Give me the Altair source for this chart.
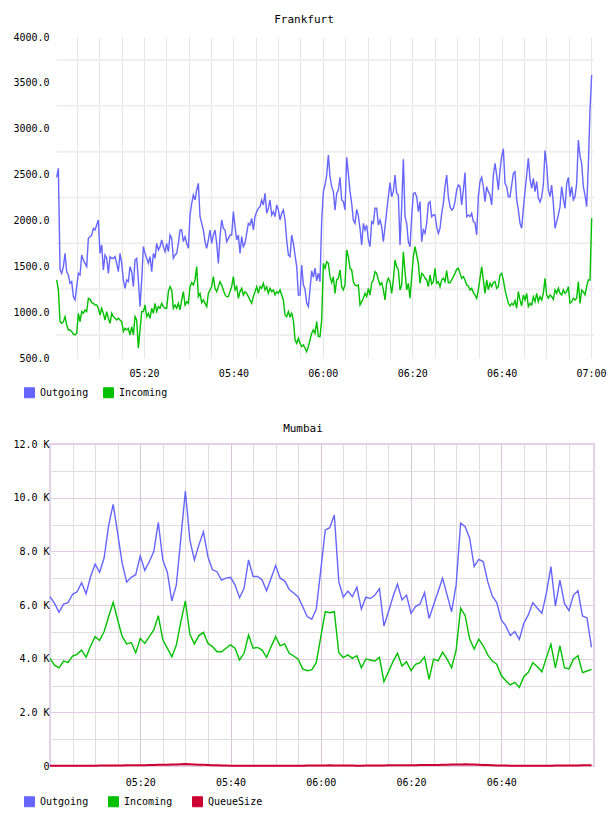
import altair as alt
import numpy as np
import pandas as pd

FONT = "DejaVu Sans Mono"
BLUE = "#6666ff"
GREEN = "#00c000"
RED = "#cc0033"
DAY = "2024-01-01"

# ---------------- Frankfurt: samples every 22.37 s starting 05:00:28 ----------------
fra_start = "05:00:28"
fra_step_s = 22.37

fra_out = [
    2470, 2568, 1460, 1423, 1496, 1641, 1441, 1405, 1314, 1333,
    1169, 1133, 1278, 1423, 1405, 1623, 1569, 1532, 1496, 1805,
    1823, 1840, 1914, 1896, 1950, 2005, 1641, 1732, 1460, 1623,
    1587, 1423, 1605, 1587, 1587, 1605, 1532, 1441, 1641, 1532,
    1351, 1260, 1351, 1333, 1496, 1441, 1278, 1569, 1587, 1351,
    1060, 1350, 1714, 1641, 1587, 1532, 1605, 1441, 1641, 1587,
    1750, 1678, 1714, 1787, 1714, 1660, 1750, 1660, 1841, 1805,
    1587, 1623, 1641, 1750, 1896, 1896, 1769, 1823, 1750, 1696,
    2059, 2186, 2277, 2223, 2332, 2404, 2041, 1968, 1896, 1769,
    1696, 1787, 1896, 1750, 1841, 1896, 1750, 1532, 1823, 2005,
    1914, 1896, 1769, 1805, 1841, 1841, 2096, 1932, 1787, 1841,
    1641, 1823, 1714, 1750, 1860, 1968, 1950, 2023, 1896, 2041,
    2096, 2132, 2150, 2223, 2168, 2295, 2078, 2132, 2223, 2059,
    2096, 2041, 2168, 2114, 2005, 2078, 2114, 2005, 1787, 1623,
    1605, 1841, 1750, 1623, 1496, 1187, 1187, 1514, 1300, 1250,
    1100, 1061, 1250, 1450, 1380, 1480, 1340, 1424,
    1332, 2000, 2314, 2386, 2495, 2713, 2477, 2368, 2314, 2113,
    2295, 2332, 2470, 2223, 2205, 2114, 2688, 2513, 2314, 2186,
    2005, 1968, 2121, 2050, 1914, 1732, 1968, 1896, 1950, 1787,
    1714, 1987, 1968, 2132, 2132, 1950, 2005, 1932, 1768, 1932,
    2096, 2259, 2412, 2259, 2314, 2495, 2295, 2277, 1732, 2150,
    2666, 2041, 1968, 1768, 1714, 2041, 2295, 2303, 2259, 2096,
    2205, 1768, 1896, 1859, 1968, 2186, 2205, 2041, 2059, 2059,
    1932, 1859, 1914, 2077, 2186, 2368, 2495, 2259, 2150, 2114,
    2132, 2205, 2332, 2386, 2368, 2168, 2332, 2521, 2041, 2059,
    2041, 2077, 1987, 1976, 1841, 2259, 2423, 2470, 2368, 2205,
    2368, 2314, 2277, 2168, 2495, 2622, 2495, 2332, 2550, 2695,
    2780, 2404, 2368, 2259, 2259, 2386, 2513, 2532, 2223, 2114,
    1968, 1914, 2132, 2314, 2495, 2677, 2450, 2350, 2459, 2314,
    2423, 2241, 2200, 2259, 2386, 2761, 2604, 2332, 2260, 2386,
    2186, 1914, 1987, 2059, 2150, 2368, 2241, 2132, 2400, 2470,
    2259, 2368, 2223, 2259, 2404, 2877, 2700, 2622, 2368, 2277,
    2150, 2600, 3204, 3585,
]

fra_in = [
    1351, 1242, 896, 878, 896, 951, 860, 806, 806, 788,
    760, 751, 769, 987, 896, 1006, 987, 1024, 1006, 1151,
    1140, 1104, 1096, 1078, 1078, 1042, 969, 1042, 987, 914,
    1006, 933, 878, 987, 951, 933, 914, 933, 914, 896,
    788, 824, 806, 824, 751, 842, 751, 951, 914, 606,
    806, 1006, 1006, 1078, 951, 987, 933, 1042, 987, 1096,
    1006, 1060, 1042, 1096, 1060, 1042, 1042, 1224, 1278, 1242,
    1042, 1078, 1042, 1096, 1024, 1133, 1224, 1078, 1115, 1096,
    1278, 1322, 1296, 1351, 1496, 1169, 1205, 1104, 1133, 1096,
    1060, 1205, 1242, 1278, 1387, 1260, 1224, 1278, 1333, 1296,
    1242, 1187, 1169, 1169, 1224, 1278, 1387, 1242, 1278, 1151,
    1224, 1260, 1187, 1224, 1205, 1169, 1133, 1096, 1169, 1224,
    1278, 1205, 1278, 1260, 1314, 1242, 1278, 1205, 1260, 1224,
    1242, 1187, 1224, 1205, 1242, 1187, 1133, 969, 951, 1006,
    951, 987, 914, 697, 660, 715, 660, 624, 642, 606,
    569, 624, 697, 769, 806, 769, 896, 733,
    733, 915, 1532, 1478, 1550, 1532, 1387, 1321, 1387, 1205,
    1351, 1369, 1460, 1278, 1242, 1300, 1678, 1605, 1478, 1460,
    1332, 1296, 1285, 1296, 1078, 1114, 1151, 1205, 1169, 1260,
    1187, 1321, 1351, 1441, 1423, 1351, 1296, 1321, 1242, 1133,
    1321, 1369, 1332, 1205, 1351, 1569, 1496, 1460, 1242, 1296,
    1659, 1441, 1242, 1314, 1151, 1387, 1605, 1714, 1623, 1532,
    1314, 1423, 1405, 1369, 1351, 1278, 1405, 1307, 1332, 1478,
    1314, 1332, 1278, 1351, 1369, 1332, 1452, 1321, 1321, 1351,
    1387, 1423, 1467, 1478, 1423, 1369, 1387, 1351, 1296, 1285,
    1242, 1260, 1213, 1187, 1151, 1242, 1369, 1496, 1351, 1205,
    1351, 1242, 1314, 1278, 1321, 1332, 1260, 1278, 1405, 1423,
    1351, 1242, 1169, 1096, 1067, 1096, 1078, 1125, 1042, 1223,
    1133, 1067, 1187, 1133, 1205, 1060, 1096, 1078, 1169, 1114,
    1205, 1114, 1169, 1133, 1205, 1369, 1187, 1151, 1187, 1169,
    1140, 1242, 1205, 1260, 1205, 1187, 1242, 1205, 1223, 1278,
    1096, 1114, 1151, 1133, 1151, 1332, 1096, 1242, 1223, 1187,
    1278, 1351, 1351, 2023,
]

fra_y_labels = [500, 1000, 1500, 2000, 2500, 3000, 3500, 4000]
fra_y_grid = [750, 1250, 1750, 2250, 2750, 3250, 3750]

# ---------------- Mumbai: one sample per minute from 05:00 (values in K) ----------------
mum_start = "05:00:00"
mum_step_s = 60

mum_out = [
    6.31, 6.06, 5.73, 6.03, 6.09, 6.40, 6.49, 6.83, 6.42, 7.06,
    7.52, 7.22, 7.76, 8.98, 9.75, 8.67, 7.55, 6.85, 7.03, 7.13,
    7.83, 7.29, 7.61, 7.99, 9.08, 7.68, 7.22, 6.15, 6.75, 8.49,
    10.25, 8.42, 7.68, 8.24, 8.73, 7.80, 7.31, 7.24, 6.93, 7.00,
    7.03, 6.75, 6.27, 6.62, 7.68, 7.06, 7.06, 6.93, 6.53, 7.00,
    7.47, 7.00, 6.90, 6.58, 6.45, 6.30, 5.94, 5.57, 5.47, 5.84,
    7.30, 8.80, 8.88, 9.35, 6.87, 6.29, 6.52, 6.31, 6.66, 5.85,
    6.29, 6.24, 6.37, 6.61, 5.22, 5.75, 6.31, 6.78, 6.19, 6.37,
    5.69, 5.94, 6.04, 6.46, 5.50, 6.00, 6.50, 7.00, 6.37, 5.75,
    6.75, 9.05, 8.92, 8.49, 7.43, 7.70, 7.62, 6.87, 6.34, 6.09,
    5.44, 5.22, 4.86, 5.01, 4.72, 5.32, 5.63, 6.09, 5.88, 5.69,
    6.44, 7.43, 5.96, 6.93, 6.06, 5.79, 6.37, 6.53, 5.59, 5.52,
    4.42,
]

mum_in = [
    4.01, 3.76, 3.66, 3.91, 3.86, 4.10, 4.16, 4.32, 4.05, 4.47,
    4.82, 4.68, 5.01, 5.57, 6.10, 5.44, 4.82, 4.55, 4.60, 4.22,
    4.76, 4.57, 4.82, 5.07, 5.60, 4.70, 4.39, 4.07, 4.51, 5.38,
    6.15, 4.91, 4.55, 4.86, 4.98, 4.57, 4.45, 4.26, 4.26, 4.39,
    4.51, 4.39, 3.95, 4.20, 4.88, 4.39, 4.42, 4.32, 4.05, 4.45,
    4.82, 4.48, 4.55, 4.20, 4.10, 3.98, 3.62, 3.55, 3.58, 3.85,
    4.80, 5.75, 5.71, 5.75, 4.22, 4.04, 4.14, 4.01, 4.11, 3.66,
    3.99, 3.95, 3.91, 4.05, 3.14, 3.51, 3.89, 4.20, 3.73, 3.89,
    3.55, 3.79, 3.85, 4.07, 3.23, 3.98, 3.92, 4.24, 3.98, 3.66,
    4.32, 5.88, 5.60, 4.73, 4.36, 4.73, 4.48, 4.14, 3.91, 3.79,
    3.37, 3.18, 3.02, 3.12, 2.93, 3.33, 3.49, 3.85, 3.70, 3.51,
    4.04, 4.54, 3.66, 4.48, 3.66, 3.62, 3.98, 4.11, 3.48, 3.54,
    3.60,
]

mum_queue = [
    0.005, 0.005, 0.005, 0.006, 0.006, 0.008, 0.008, 0.010, 0.010, 0.012,
    0.012, 0.014, 0.015, 0.016, 0.018, 0.020, 0.022, 0.024, 0.026, 0.028,
    0.030, 0.032, 0.034, 0.038, 0.042, 0.046, 0.050, 0.055, 0.060, 0.065,
    0.070, 0.062, 0.055, 0.048, 0.042, 0.036, 0.030, 0.024, 0.018, 0.014,
    0.010, 0.008, 0.006, 0.005, 0.005, 0.005, 0.005, 0.005, 0.005, 0.006,
    0.006, 0.006, 0.008, 0.008, 0.010, 0.010, 0.012, 0.014, 0.016, 0.018,
    0.020, 0.022, 0.024, 0.022, 0.020, 0.018, 0.016, 0.014, 0.012, 0.012,
    0.014, 0.016, 0.018, 0.020, 0.022, 0.024, 0.026, 0.028, 0.030, 0.030,
    0.032, 0.032, 0.034, 0.034, 0.036, 0.038, 0.040, 0.044, 0.048, 0.052,
    0.056, 0.060, 0.062, 0.058, 0.052, 0.046, 0.040, 0.034, 0.028, 0.022,
    0.018, 0.014, 0.012, 0.010, 0.008, 0.008, 0.008, 0.008, 0.008, 0.010,
    0.010, 0.012, 0.014, 0.016, 0.018, 0.020, 0.022, 0.022, 0.024, 0.024,
    0.026,
]

mum_y_ticks = [0, 1000, 2000, 3000, 4000, 5000, 6000, 7000, 8000, 9000, 10000, 11000, 12000]


def stamps(start, step_s, n):
    t0 = pd.Timestamp(f"{DAY} {start}")
    ts = t0 + pd.to_timedelta(np.arange(n) * step_s, unit="s")
    return [t.strftime("%Y-%m-%dT%H:%M:%S.%f")[:-3] for t in ts]


def dt(h, m, s=0):
    return alt.DateTime(year=2024, month=1, date=1, hours=h, minutes=m, seconds=s)


def five_minute_ticks(first, last):
    return [dt(5 + m // 60, m % 60) for m in range(first, last + 1, 5)]


LABEL_EXPR_TIME = "minutes(datum.value) % 20 == 0 ? timeFormat(datum.value, '%H:%M') : ''"


def legend(x, y, pad):
    return alt.Legend(
        orient="none", legendX=x, legendY=y, direction="horizontal", title=None,
        symbolType="square", symbolSize=100, symbolStrokeColor="#999999",
        symbolStrokeWidth=1, symbolOpacity=1, labelFont=FONT, labelFontSize=10,
        labelColor="#000000", labelOffset=5, columnPadding=pad, padding=0,
    )


# ---------------- Frankfurt panel ----------------
fra = pd.DataFrame({
    "time": stamps(fra_start, fra_step_s, len(fra_out)),
    "Outgoing": fra_out,
    "Incoming": fra_in,
})
fra_long = fra.melt("time", var_name="series", value_name="value")
fra_end = "2024-01-01T07:00:40"

fra_xscale = alt.Scale(domain=[dt(4, 58, 58), dt(7, 0, 40)])
fra_yscale = alt.Scale(domain=[500, 4000], nice=False, zero=False)
fra_color = alt.Scale(domain=["Outgoing", "Incoming"], range=[BLUE, GREEN])

fra_xaxis = alt.Axis(
    values=five_minute_ticks(5, 120), grid=True, gridColor="#e6e6e6", gridWidth=1,
    domain=False, ticks=False, labelExpr=LABEL_EXPR_TIME, labelFont=FONT,
    labelFontSize=10, labelColor="#000000", labelPadding=10, labelFlush=False,
    labelOverlap=False, title=None,
)
fra_yaxis = alt.Axis(
    values=fra_y_labels, format=".1f", grid=False, domain=False, ticks=False,
    labelFont=FONT, labelFontSize=10, labelColor="#000000", labelPadding=1,
    labelFlush=False, title=None,
)

fra_grid_df = pd.DataFrame({"y": fra_y_grid, "x0": fra["time"].iloc[0], "x1": fra_end})
fra_grid = alt.Chart(fra_grid_df).mark_rule(color="#efefef", strokeWidth=2).encode(
    x=alt.X("x0:T", scale=fra_xscale, axis=fra_xaxis),
    x2="x1:T",
    y=alt.Y("y:Q", scale=fra_yscale, axis=fra_yaxis),
)

fra_base = alt.Chart(fra_long).encode(
    x=alt.X("time:T", scale=fra_xscale, axis=fra_xaxis),
    y=alt.Y("value:Q", scale=fra_yscale, axis=fra_yaxis),
    color=alt.Color("series:N", scale=fra_color, legend=legend(-26, 350, 12)),
)
fra_lines = [
    fra_base.transform_filter(f"datum.series == '{s}'").mark_line(strokeWidth=1.4)
    for s in ["Outgoing", "Incoming"]
]
fra_key = fra_base.mark_square(filled=True, size=0, opacity=1, stroke="#999999", strokeWidth=1)

fra_chart = alt.layer(fra_grid, *fra_lines, fra_key).properties(
    width=544, height=321,
    title=alt.TitleParams("Frankfurt", font=FONT, fontSize=11, fontWeight="normal",
                          color="#000000", anchor="middle", dx=-18, offset=7),
)

# ---------------- Mumbai panel ----------------
mum = pd.DataFrame({
    "time": stamps(mum_start, mum_step_s, len(mum_out)),
    "Outgoing": np.array(mum_out) * 1000,
    "Incoming": np.array(mum_in) * 1000,
    "QueueSize": np.array(mum_queue) * 1000,
})
mum_long = mum.melt("time", var_name="series", value_name="value")

mum_xscale = alt.Scale(domain=[dt(5, 0, 0), dt(7, 0, 33)])
mum_yscale = alt.Scale(domain=[0, 12000], nice=False)
mum_color = alt.Scale(domain=["Outgoing", "Incoming", "QueueSize"], range=[BLUE, GREEN, RED])

PINK = "#dcc3dc"
GREY = "#dedede"
mum_xaxis = alt.Axis(
    values=five_minute_ticks(5, 115), grid=True,
    gridColor={"condition": {"test": "minutes(datum.value) % 20 == 0", "value": PINK}, "value": GREY},
    gridWidth=1, domain=False, ticks=False, labelExpr=LABEL_EXPR_TIME, labelFont=FONT,
    labelFontSize=10, labelColor="#000000", labelPadding=11, labelFlush=False,
    labelOverlap=False, title=None,
)
mum_yaxis = alt.Axis(
    values=mum_y_ticks, grid=True,
    gridColor={"condition": {"test": "datum.value % 2000 == 0", "value": "#e4cce4"}, "value": GREY},
    gridWidth=1, domain=False, ticks=False,
    labelExpr="datum.value == 0 ? '0' : (datum.value % 2000 == 0 ? format(datum.value / 1000, '.1f') + ' K' : '')",
    labelFont=FONT, labelFontSize=10, labelColor="#000000", labelPadding=1,
    labelFlush=False, labelOverlap=False, title=None,
)

mum_base = alt.Chart(mum_long).encode(
    x=alt.X("time:T", scale=mum_xscale, axis=mum_xaxis),
    y=alt.Y("value:Q", scale=mum_yscale, axis=mum_yaxis),
    color=alt.Color("series:N", scale=mum_color, legend=legend(-26, 352, 17)),
)
mum_lines = [
    mum_base.transform_filter(f"datum.series == '{s}'").mark_line(strokeWidth=w)
    for s, w in [("Outgoing", 1.4), ("Incoming", 1.4), ("QueueSize", 2)]
]
mum_key = mum_base.mark_square(filled=True, size=0, opacity=1, stroke="#999999", strokeWidth=1)

mum_chart = alt.layer(*mum_lines, mum_key).properties(
    width=544, height=322,
    view=alt.ViewBackground(stroke="#e6d2e6", strokeWidth=2),
    title=alt.TitleParams("Mumbai", font=FONT, fontSize=11, fontWeight="normal",
                          color="#000000", anchor="middle", dx=-19, offset=5),
)

chart = alt.vconcat(fra_chart, mum_chart, spacing=21).resolve_scale(
    x="independent", y="independent", color="independent"
).resolve_axis(x="independent", y="independent").resolve_legend(color="independent").configure(
    padding={"left": 11, "top": 13, "right": 0, "bottom": 0},
    background="white",
).configure_view(stroke="transparent")

chart.save("out.html", embed_options={"renderer": "svg", "actions": False})
